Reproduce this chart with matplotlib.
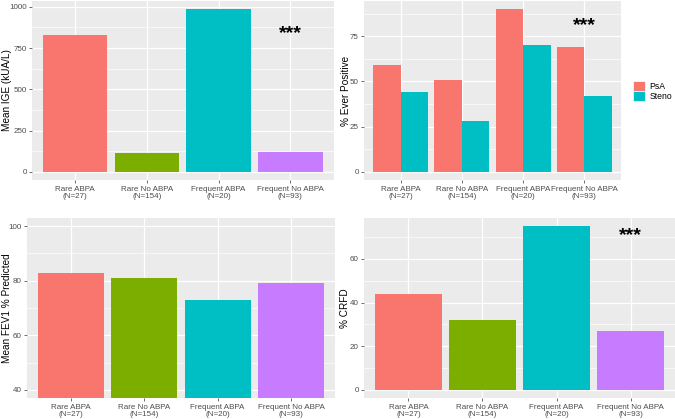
import matplotlib
matplotlib.use("Agg")
import matplotlib.pyplot as plt
import numpy as np

plt.rcParams['font.family'] = ['Liberation Sans', 'DejaVu Sans']

categories = ["Rare ABPA\n(N=27)", "Rare No ABPA\n(N=154)", "Frequent ABPA\n(N=20)", "Frequent No ABPA\n(N=93)"]
ige_values = [830, 115, 986, 123]
psa_values = [59, 51, 90, 69]
steno_values = [44, 28, 70, 42]
fev1_values = [82.9, 81.0, 73.1, 79.2]
crfd_values = [44, 32, 75, 27]
series_names = ["PsA", "Steno"]

hue4 = ["#F8766D", "#7CAE00", "#00BFC4", "#C77CFF"]
hue2 = ["#F8766D", "#00BFC4"]

W, H = 675, 419
fig = plt.figure(figsize=(W / 100, H / 100), dpi=100)

TICK_FS = 5.8
LAB_FS = 7.2

def add_ax(left, top, right, bottom):
    return fig.add_axes([left / W, 1 - bottom / H, (right - left) / W, (bottom - top) / H])

def style(ax, ylim, majors, minors, ylabel, label_x):
    ax.set_facecolor("#EBEBEB")
    for s in ax.spines.values():
        s.set_visible(False)
    ax.set_ylim(*ylim)
    ax.set_xlim(-0.6, 3.6)
    ax.set_yticks(majors)
    ax.set_yticks(minors, minor=True)
    ax.set_xticks(range(4))
    ax.set_xticklabels(categories, fontsize=TICK_FS, color="#4D4D4D", linespacing=1.0)
    ax.tick_params(axis="y", which="major", labelsize=TICK_FS, labelcolor="#4D4D4D", color="#333333", length=2.5, width=0.5, pad=1.2)
    ax.tick_params(axis="y", which="minor", length=0)
    ax.tick_params(axis="x", color="#333333", length=2.5, width=0.5, pad=1.5)
    ax.grid(True, which="major", color="white", linewidth=0.9)
    ax.grid(True, which="minor", axis="y", color="white", linewidth=0.45)
    ax.set_axisbelow(True)
    ax.set_ylabel(ylabel, fontsize=LAB_FS, color="black")
    bb = ax.get_position()
    ax.yaxis.set_label_coords((label_x / W - bb.x0) / bb.width, 0.5)

x = np.arange(4)
STAR_FS = 14

# Panel 1
ax1 = add_ax(32, 1, 333.5, 180)
ax1.bar(x, ige_values, width=0.9, color=hue4, zorder=2)
style(ax1, (-49.3, 1035), [0, 250, 500, 750, 1000], [125, 375, 625, 875], "Mean IGE (kUA/L)", 12)
ax1.text(3, 840, "***", ha="center", va="center", fontsize=STAR_FS, fontweight="bold")

# Panel 2
ax2 = add_ax(364, 1, 621, 180)
ax2.bar(x - 0.225, psa_values, width=0.45, color=hue2[0], zorder=2, label=series_names[0])
ax2.bar(x + 0.225, steno_values, width=0.45, color=hue2[1], zorder=2, label=series_names[1])
style(ax2, (-4.5, 94.5), [0, 25, 50, 75], [12.5, 37.5, 62.5, 87.5], "% Ever Positive", 351)
ax2.text(3, 81, "***", ha="center", va="center", fontsize=STAR_FS, fontweight="bold")
leg = ax2.legend(loc="upper left", bbox_to_anchor=((633 - 364) / (621 - 364), 1 - (81 - 1) / 179),
                 frameon=False, fontsize=6.2,
                 handlelength=1.45, handleheight=1.45, handletextpad=0.45, labelspacing=0.0,
                 borderaxespad=0, borderpad=0)
for h in leg.legend_handles:
    h.set_edgecolor("white")
    h.set_linewidth(0.5)

# Panel 3
ax3 = add_ax(27, 218, 335, 398)
ax3.bar(x, fev1_values, width=0.9, color=hue4, zorder=2)
style(ax3, (37, 103), [40, 60, 80, 100], [50, 70, 90], "Mean FEV1 % Predicted", 12)

# Panel 4
ax4 = add_ax(364, 218, 675, 398)
ax4.bar(x, crfd_values, width=0.9, color=hue4, zorder=2)
style(ax4, (-3.75, 78.75), [0, 20, 40, 60], [10, 30, 50, 70], "% CRFD", 350)
ax4.text(3, 70.5, "***", ha="center", va="center", fontsize=STAR_FS, fontweight="bold")

fig.savefig("out.png", dpi=100)
